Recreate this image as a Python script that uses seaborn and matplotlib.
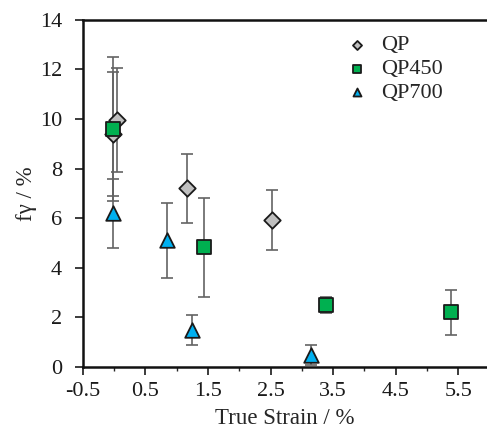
import numpy as np
import pandas as pd
import matplotlib
matplotlib.use("Agg")
import matplotlib.pyplot as plt
import seaborn as sns

# valores
qp_x = [-0.02, 0.05, 1.16, 2.52]
qp_y = [9.4, 9.95, 7.2, 5.93]
qp_err = [2.5, 2.1, 1.4, 1.2]

qp450_x = [-0.02, 1.44, 3.39, 5.39]
qp450_y = [9.6, 4.82, 2.5, 2.2]
qp450_err = [2.9, 2.0, 0.32, 0.9]

qp700_x = [-0.02, 0.84, 1.24, 3.15]
qp700_y = [6.2, 5.1, 1.5, 0.48]
qp700_err = [1.4, 1.5, 0.6, 0.4]

sns.set_style("ticks")
plt.rcParams['font.family'] = ['Liberation Serif', 'DejaVu Serif']
plt.rcParams['axes.unicode_minus'] = False

fig = plt.figure(figsize=(4.87, 4.41), dpi=100)
ax = fig.add_axes([0.170, 0.168, 0.830, 0.787])

series = [
    ("QP", qp_x, qp_y, qp_err, "D", "#bfbfbf", 70),
    ("QP450", qp450_x, qp450_y, qp450_err, "s", "#00b050", 90),
    ("QP700", qp700_x, qp700_y, qp700_err, "^", "#00b0f0", 110),
]

frames = []
for nome, xs, ys, es, mk, cor, tam in series:
    ax.errorbar(xs, ys, yerr=es, fmt="none", ecolor="#636363", elinewidth=1.2,
                capsize=4, capthick=1.2, zorder=1)
    frames.append(pd.DataFrame({"strain": xs, "f": ys, "amostra": nome}))

df = pd.concat(frames, ignore_index=True)

for nome, xs, ys, es, mk, cor, tam in series:
    sns.scatterplot(data=df[df["amostra"] == nome], x="strain", y="f", marker=mk,
                    color=cor, s=tam, edgecolor="#1a1a1a", linewidth=1.3,
                    label=nome, ax=ax, zorder=3)

ax.set_xlim(-0.5, 5.96)
ax.set_ylim(0, 14)
ax.set_xticks(np.arange(-0.5, 5.6, 1.0))
ax.set_xticks(np.arange(0, 5.6, 1.0), minor=True)
ax.set_yticks(np.arange(0, 15, 2))
ax.tick_params(axis="both", which="major", direction="out", length=6, width=1.2,
               labelsize=16, colors="#1a1a1a", pad=5)
ax.tick_params(axis="y", which="major", pad=9)
ax.tick_params(axis="x", which="minor", direction="out", length=3, width=1)
ax.set_xlabel("True Strain / %", fontsize=16.5, labelpad=5)
ax.set_ylabel("fγ / %", fontsize=16.5, labelpad=2)

for lado in ["left", "bottom", "top"]:
    ax.spines[lado].set_linewidth(1.8)
    ax.spines[lado].set_color("#111111")
ax.spines["right"].set_visible(False)

leg = ax.legend(loc="upper right", bbox_to_anchor=(0.925, 0.995), frameon=False,
                fontsize=16, markerscale=0.55, handletextpad=0.1,
                labelspacing=0.15, borderaxespad=0.2)

fig.savefig("out.png", dpi=100)
